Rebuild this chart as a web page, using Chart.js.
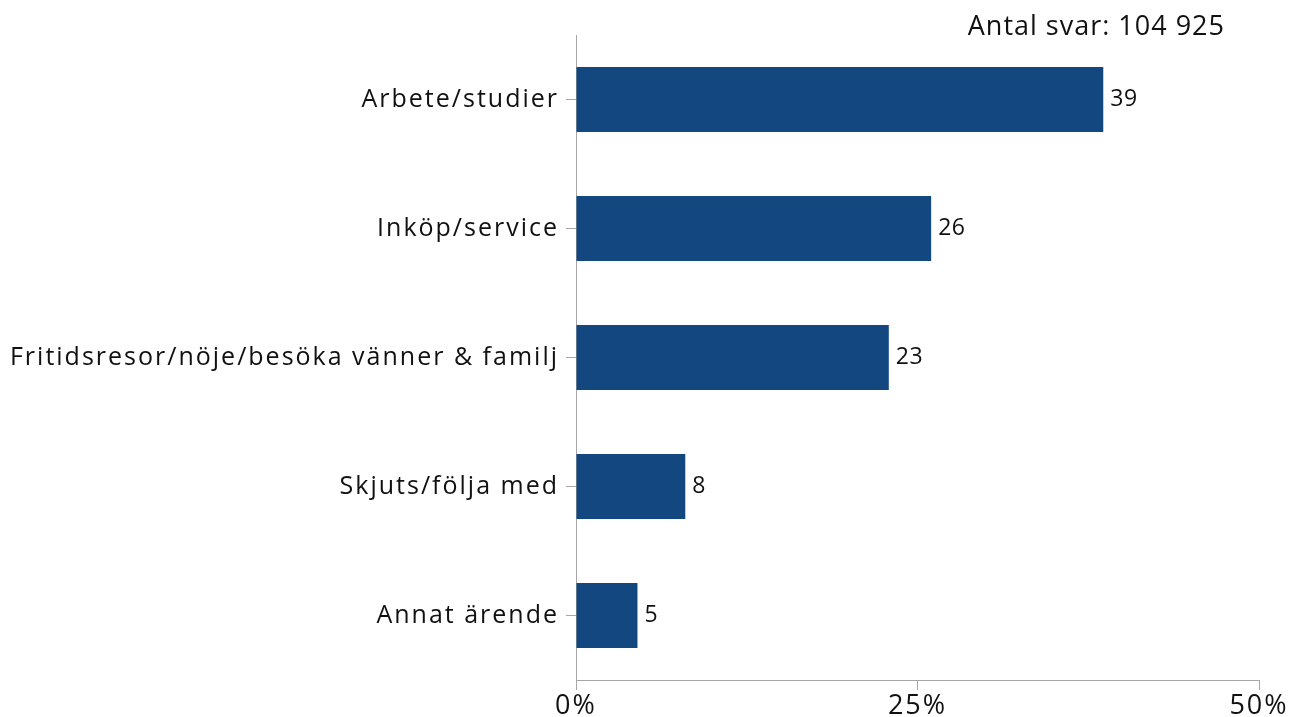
<!DOCTYPE html>
<html>
<head>
<meta charset="utf-8">
<script src="https://cdn.jsdelivr.net/npm/chart.js@4"></script>
<style>
  html, body { margin: 0; padding: 0; background: #fff; }
  #wrap { width: 1292px; height: 717px; position: relative; }
</style>
</head>
<body>
<div id="wrap"><canvas id="c" width="1292" height="717"></canvas></div>
<script>
const categories = [
  "Arbete/studier",
  "Inköp/service",
  "Fritidsresor/nöje/besöka vänner & familj",
  "Skjuts/följa med",
  "Annat ärende"
];
const values = [38.6, 26.0, 22.9, 8.0, 4.5];
const valueLabels = ["39", "26", "23", "8", "5"];
const xTicks = [0, 25, 50];
const noteText = "Antal svar: 104 925";

const FONT = "'Open Sans'";
const barColor = "#13477f";
const axisColor = "#a6a6a6";
const textColor = "#111111";

const spacingPlugin = {
  id: "spacing",
  beforeLayout(chart) { chart.ctx.letterSpacing = "2px"; },
  beforeDraw(chart) { chart.ctx.letterSpacing = "2px"; }
};

const valueLabelPlugin = {
  id: "valueLabels",
  afterDatasetsDraw(chart) {
    const ctx = chart.ctx;
    const meta = chart.getDatasetMeta(0);
    ctx.save();
    ctx.letterSpacing = "0.5px";
    ctx.font = "23px " + FONT;
    ctx.fillStyle = textColor;
    ctx.textAlign = "left";
    ctx.textBaseline = "middle";
    meta.data.forEach((bar, i) => {
      ctx.fillText(valueLabels[i], bar.x + 7, bar.y);
    });
    ctx.restore();
  }
};

const notePlugin = {
  id: "note",
  afterDraw(chart) {
    const ctx = chart.ctx;
    ctx.save();
    ctx.letterSpacing = "1px";
    ctx.font = "27px " + FONT;
    ctx.fillStyle = textColor;
    ctx.textAlign = "right";
    ctx.textBaseline = "middle";
    ctx.fillText(noteText, 1225, 27);
    ctx.restore();
  }
};

new Chart(document.getElementById("c"), {
  type: "bar",
  data: {
    labels: categories,
    datasets: [{
      data: values,
      backgroundColor: barColor,
      borderWidth: 0,
      barPercentage: 0.503,
      categoryPercentage: 1.0
    }]
  },
  options: {
    indexAxis: "y",
    responsive: false,
    animation: false,
    devicePixelRatio: 1,
    layout: { padding: { top: 35, right: 33, left: 0, bottom: 0 } },
    plugins: {
      legend: { display: false },
      tooltip: { enabled: false }
    },
    scales: {
      x: {
        min: 0,
        max: 50,
        afterBuildTicks(scale) { scale.ticks = xTicks.map(v => ({ value: v })); },
        afterFit(scale) { scale.height = 37; },
        grid: { drawOnChartArea: false, tickLength: 10, color: axisColor, lineWidth: 1 },
        border: { display: true, color: axisColor, width: 1 },
        ticks: {
          padding: 0,
          color: textColor,
          font: { family: FONT, size: 27 },
          maxRotation: 0,
          callback: (v) => v + "%"
        }
      },
      y: {
        afterFit(scale) { scale.width = 576; },
        grid: { drawOnChartArea: false, offset: false, tickLength: 10, color: axisColor, lineWidth: 1 },
        border: { display: true, color: axisColor, width: 1 },
        ticks: {
          padding: 7,
          color: textColor,
          font: { family: FONT, size: 25 }
        }
      }
    }
  },
  plugins: [spacingPlugin, valueLabelPlugin, notePlugin]
});
</script>
</body>
</html>
